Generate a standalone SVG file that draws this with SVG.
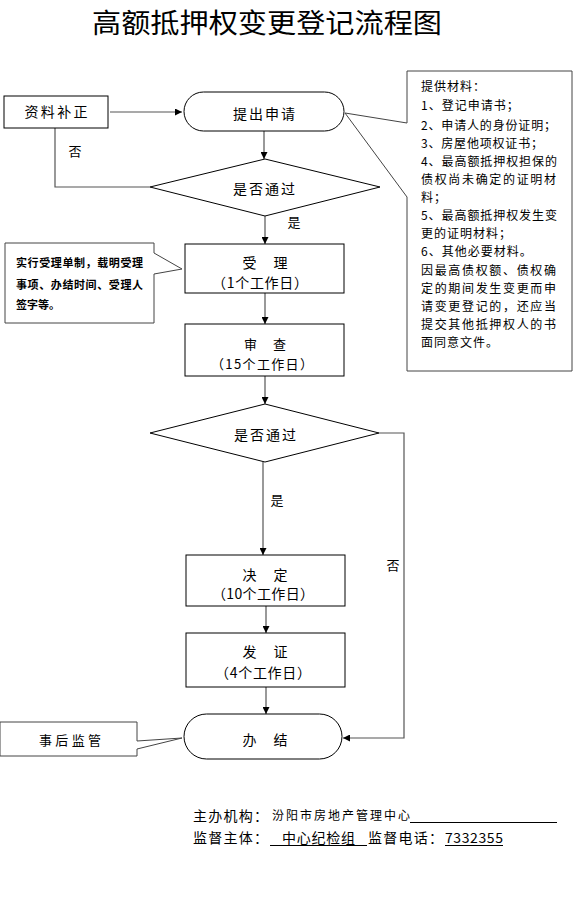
<svg xmlns="http://www.w3.org/2000/svg" width="573" height="923" viewBox="0 0 573 923">
<defs>
<style>
.t{font-family:"Noto Sans CJK SC","Liberation Sans",sans-serif;fill:#000}
.box{fill:#fff;stroke:#000;stroke-width:1}
.ln{fill:none;stroke:#555;stroke-width:1.2}
.cl{fill:#fff;stroke:#444;stroke-width:1}
</style>
<marker id="ah" viewBox="0 0 10 10" refX="10" refY="5" markerWidth="7" markerHeight="7" markerUnits="userSpaceOnUse" orient="auto">
<path d="M0,0 L10,5 L0,10 z" fill="#000"/>
</marker>
</defs>
<rect width="573" height="923" fill="#fff"/>
<text class="t" x="267" y="33" font-size="27" text-anchor="middle" textLength="350" lengthAdjust="spacingAndGlyphs">高额抵押权变更登记流程图</text>

<g id="connectors">
<line class="ln" x1="110" y1="112" x2="182" y2="112" marker-end="url(#ah)"/>
<line class="ln" x1="264" y1="131" x2="264" y2="159" marker-end="url(#ah)"/>
<polyline class="ln" points="150,187 55,187 55,128"/>
<line class="ln" x1="265" y1="216" x2="265" y2="244" marker-end="url(#ah)"/>
<line class="ln" x1="265" y1="293" x2="265" y2="324" marker-end="url(#ah)"/>
<line class="ln" x1="265" y1="376" x2="265" y2="404" marker-end="url(#ah)"/>
<line class="ln" x1="263" y1="462" x2="263" y2="555" marker-end="url(#ah)"/>
<polyline class="ln" points="379,433 404,433 404,738 343,738" marker-end="url(#ah)"/>
<line class="ln" x1="266" y1="606" x2="266" y2="633" marker-end="url(#ah)"/>
<line class="ln" x1="266" y1="687" x2="266" y2="714" marker-end="url(#ah)"/>
<text class="t" x="75" y="156" font-size="13" text-anchor="middle">否</text>
<text class="t" x="294" y="227" font-size="13" text-anchor="middle">是</text>
<text class="t" x="277" y="505" font-size="13" text-anchor="middle">是</text>
<text class="t" x="393" y="570" font-size="13" text-anchor="middle">否</text>
</g>

<g id="n-buzheng">
<rect class="box" x="4" y="96" width="104" height="32"/>
<text class="t" x="56" y="117" font-size="14" text-anchor="middle" textLength="63" lengthAdjust="spacing">资料补正</text>
</g>

<g id="n-shenqing">
<rect class="box" x="184" y="92" width="160" height="39" rx="19.5" ry="19.5"/>
<text class="t" x="264" y="119" font-size="14" text-anchor="middle" textLength="62" lengthAdjust="spacing">提出申请</text>
</g>

<g id="n-callout-materials">
<path class="cl" d="M407,71 L572,71 L572,371 L407,371 L407,197 L345,113 L407,123 Z"/>
<g class="t" font-size="12" letter-spacing="1">
<text x="421" y="91">提供材料：</text>
<text x="421" y="110">1、登记申请书；</text>
<text x="421" y="130" textLength="136" lengthAdjust="spacing">2、申请人的身份证明；</text>
<text x="421" y="148" textLength="123" lengthAdjust="spacing">3、房屋他项权证书；</text>
<text x="421" y="166" textLength="137" lengthAdjust="spacing">4、最高额抵押权担保的</text>
<text x="421" y="184" textLength="136" lengthAdjust="spacing">债权尚未确定的证明材</text>
<text x="421" y="202">料；</text>
<text x="421" y="220" textLength="137" lengthAdjust="spacing">5、最高额抵押权发生变</text>
<text x="421" y="238">更的证明材料；</text>
<text x="421" y="256">6、其他必要材料。</text>
<text x="421" y="275" textLength="136" lengthAdjust="spacing">因最高债权额、债权确</text>
<text x="421" y="293" textLength="136" lengthAdjust="spacing">定的期间发生变更而申</text>
<text x="421" y="311" textLength="136" lengthAdjust="spacing">请变更登记的，还应当</text>
<text x="421" y="329" textLength="136" lengthAdjust="spacing">提交其他抵押权人的书</text>
<text x="421" y="347">面同意文件。</text>
</g>
</g>

<g id="n-decision1">
<polygon class="box" points="265,159 380,187 265,216 150,187"/>
<text class="t" x="264" y="194" font-size="14" text-anchor="middle" textLength="62" lengthAdjust="spacing">是否通过</text>
</g>

<g id="n-callout-shouli">
<path class="cl" d="M5,243 L154,243 L154,253 L182,269 L154,274 L154,323 L5,323 Z"/>
<g class="t" font-size="11" font-weight="bold">
<text x="16" y="267" textLength="127" lengthAdjust="spacing">实行受理单制，载明受理</text>
<text x="16" y="289" textLength="127" lengthAdjust="spacing">事项、办结时间、受理人</text>
<text x="16" y="309">签字等。</text>
</g>
</g>

<g id="n-shouli">
<rect class="box" x="185" y="244" width="159" height="49"/>
<text class="t" x="265" y="268" font-size="14" text-anchor="middle">受　 理</text>
<text class="t" x="260" y="288" font-size="14" text-anchor="middle" textLength="96" lengthAdjust="spacing">（1个工作日）</text>
</g>

<g id="n-shencha">
<rect class="box" x="185" y="324" width="159" height="52"/>
<text class="t" x="265" y="349" font-size="13" text-anchor="middle">审　 查</text>
<text class="t" x="262" y="369" font-size="13" text-anchor="middle" textLength="102" lengthAdjust="spacing">（15个工作日）</text>
</g>

<g id="n-decision2">
<polygon class="box" points="265,404 379,433 265,462 150,433"/>
<text class="t" x="265" y="440" font-size="14" text-anchor="middle" textLength="62" lengthAdjust="spacing">是否通过</text>
</g>

<g id="n-jueding">
<rect class="box" x="186" y="555" width="159" height="51"/>
<text class="t" x="265" y="580" font-size="14" text-anchor="middle">决　 定</text>
<text class="t" x="263" y="599" font-size="14" text-anchor="middle" textLength="102" lengthAdjust="spacing">（10个工作日）</text>
</g>

<g id="n-fazheng">
<rect class="box" x="186" y="633" width="159" height="54"/>
<text class="t" x="265" y="657" font-size="14" text-anchor="middle">发　 证</text>
<text class="t" x="263" y="678" font-size="14" text-anchor="middle" textLength="96" lengthAdjust="spacing">（4个工作日）</text>
</g>

<g id="n-banjie">
<rect class="box" x="184" y="714" width="158" height="45" rx="22.5" ry="22.5"/>
<text class="t" x="265" y="745" font-size="14" text-anchor="middle">办　 结</text>
</g>

<g id="n-jianguan">
<path class="cl" d="M0,722 L137,722 L137,741 L182,738 L137,749 L137,756 L0,756 Z"/>
<text class="t" x="70" y="745" font-size="13" text-anchor="middle" textLength="62" lengthAdjust="spacing">事后监管</text>
</g>

<g id="footer">
<text class="t" x="193" y="821" font-size="14" textLength="75" lengthAdjust="spacing">主办机构：</text>
<text class="t" x="272" y="820" font-size="12" textLength="138" lengthAdjust="spacing">汾阳市房地产管理中心</text>
<line x1="410" y1="822.5" x2="557" y2="822.5" stroke="#000" stroke-width="1"/>
<text class="t" x="193" y="843" font-size="14" textLength="75" lengthAdjust="spacing">监督主体：</text>
<text class="t" x="282" y="843" font-size="14" textLength="73" lengthAdjust="spacing">中心纪检组</text>
<line x1="270" y1="845.5" x2="367" y2="845.5" stroke="#000" stroke-width="1"/>
<text class="t" x="368" y="843" font-size="14" textLength="75" lengthAdjust="spacing">监督电话：</text>
<text class="t" x="445" y="843" font-size="14" textLength="58" lengthAdjust="spacing">7332355</text>
<line x1="445" y1="845.5" x2="503" y2="845.5" stroke="#000" stroke-width="1"/>
</g>
</svg>
